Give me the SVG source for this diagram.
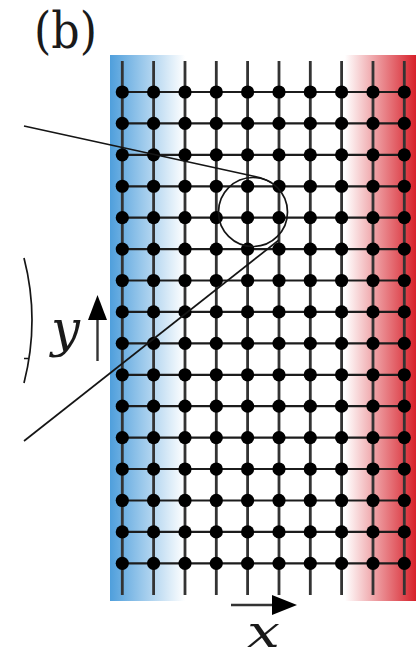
<svg xmlns="http://www.w3.org/2000/svg" width="416" height="658" viewBox="0 0 416 658">
<style>
.v{stroke:#333;stroke-width:2.8;fill:none}
.h{stroke:#1c1c1c;stroke-width:2.2;fill:none}
.c{stroke:#151515;stroke-width:1.7;fill:none}
</style>
<defs>
<linearGradient id="bl" x1="0" x2="1" y1="0" y2="0"><stop offset="0" stop-color="#4f9fdc"/><stop offset="1" stop-color="#4f9fdc" stop-opacity="0"/></linearGradient>
<linearGradient id="rd" x1="0" x2="1" y1="0" y2="0"><stop offset="0" stop-color="#d7202a" stop-opacity="0"/><stop offset="1" stop-color="#d7202a"/></linearGradient>
<g id="d"><circle r="6.6" fill="#000"/></g>
</defs>
<rect x="110" y="55" width="75" height="546" fill="url(#bl)"/>
<rect x="345" y="55" width="71" height="546" fill="url(#rd)"/>
<g id="grid">
<path class="v" d="M122.3 61V595M153.6 61V595M185 61V595M216.3 61V595M247.6 61V595M279 61V595M310.3 61V595M341.6 61V595M373 61V595M404.3 61V595"/>
<path class="h" d="M122.3 92H404.3M122.3 123.4H404.3M122.3 154.8H404.3M122.3 186.3H404.3M122.3 217.7H404.3M122.3 249.1H404.3M122.3 280.5H404.3M122.3 311.9H404.3M122.3 343.4H404.3M122.3 374.8H404.3M122.3 406.2H404.3M122.3 437.6H404.3M122.3 469H404.3M122.3 500.5H404.3M122.3 531.9H404.3M122.3 563.3H404.3"/>
<g id="dots">
<g id="r0"><use href="#d" x="122.3" y="92"/><use href="#d" x="153.6" y="92"/><use href="#d" x="185" y="92"/><use href="#d" x="216.3" y="92"/><use href="#d" x="247.6" y="92"/><use href="#d" x="279" y="92"/><use href="#d" x="310.3" y="92"/><use href="#d" x="341.6" y="92"/><use href="#d" x="373" y="92"/><use href="#d" x="404.3" y="92"/></g>
<use href="#r0" y="31.42"/><use href="#r0" y="62.84"/><use href="#r0" y="94.26"/><use href="#r0" y="125.68"/><use href="#r0" y="157.1"/><use href="#r0" y="188.52"/><use href="#r0" y="219.94"/><use href="#r0" y="251.36"/><use href="#r0" y="282.78"/><use href="#r0" y="314.2"/><use href="#r0" y="345.62"/><use href="#r0" y="377.04"/><use href="#r0" y="408.46"/><use href="#r0" y="439.88"/><use href="#r0" y="471.3"/>
</g>
</g>
<g id="connectors">
<path class="c" d="M24 126L255 176.5Q266 179 272 183"/>
<path class="c" d="M24 441L279 240"/>
<circle class="c" cx="253" cy="212" r="34.5"/>
<path class="c" d="M24 258Q40 320 24 383M24 358.5H28"/>
<path d="M97.5 361V315" stroke="#333" stroke-width="2.4" fill="none"/>
<path d="M97.5 295L107 320H88Z" fill="#000"/>
<path d="M231 605H275" stroke="#333" stroke-width="2.4" fill="none"/>
<path d="M297 605L272 595V615Z" fill="#000"/>
</g>
<text font-family="'DejaVu Serif',serif" fill="#1a1a1a" x="34" y="48" font-size="50" textLength="63" lengthAdjust="spacingAndGlyphs">(b)</text>
<text font-family="'DejaVu Serif',serif" fill="#1a1a1a" x="51" y="346" font-size="50" font-style="italic" textLength="29" lengthAdjust="spacingAndGlyphs">y</text>
<text font-family="'DejaVu Serif',serif" fill="#1a1a1a" x="247" y="647" font-size="44" font-style="italic" textLength="33" lengthAdjust="spacingAndGlyphs">x</text>
</svg>
